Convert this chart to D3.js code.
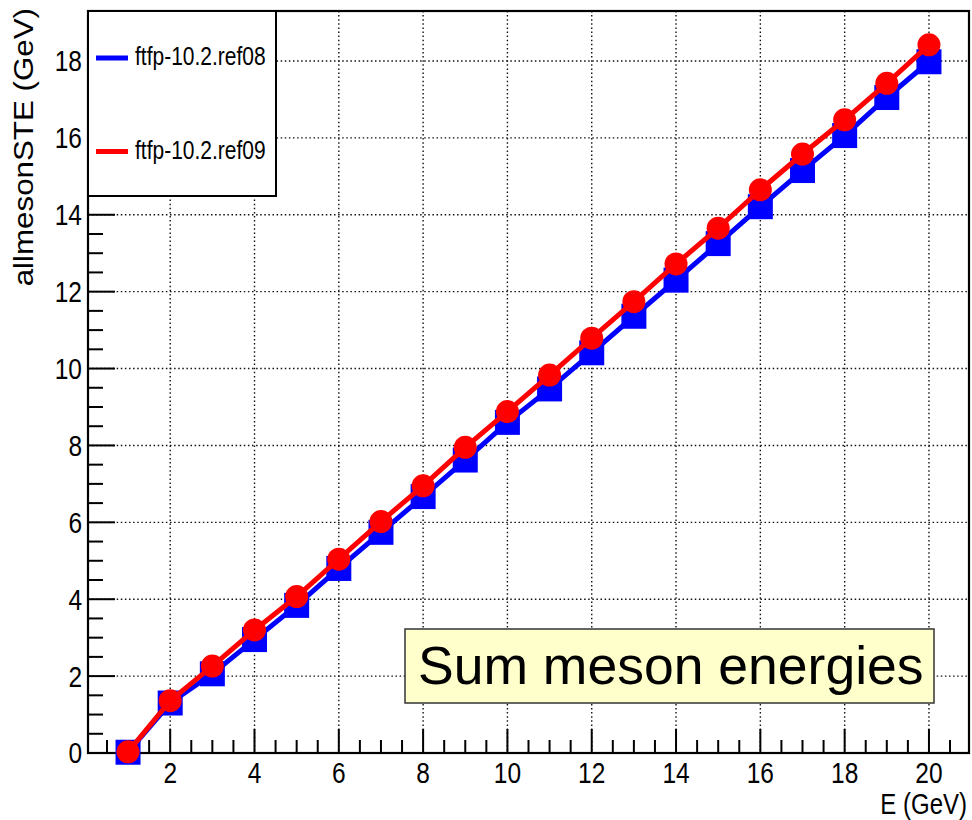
<!DOCTYPE html>
<html>
<head>
<meta charset="utf-8">
<script src="https://cdn.jsdelivr.net/npm/d3@7"></script>
<style>
  html, body { margin: 0; padding: 0; background: #ffffff; }
  svg { display: block; font-family: "Liberation Sans", Arial, Helvetica, sans-serif; }
</style>
</head>
<body>
<svg id="chart" width="972" height="820"></svg>
<script>
// ---- data ----
const energies = [1,2,3,4,5,6,7,8,9,10,11,12,13,14,15,16,17,18,19,20];
const ref08 = [0.02,1.30,2.06,2.95,3.84,4.80,5.74,6.67,7.62,8.60,9.47,10.41,11.36,12.30,13.25,14.21,15.15,16.06,17.05,17.98];
const ref09 = [0.03,1.36,2.26,3.20,4.07,5.04,6.02,6.95,7.95,8.88,9.83,10.79,11.74,12.72,13.65,14.65,15.58,16.47,17.42,18.42];
const seriesNames = ["ftfp-10.2.ref08", "ftfp-10.2.ref09"];
const xTickValues = [2,4,6,8,10,12,14,16,18,20];
const yTickValues = [0,2,4,6,8,10,12,14,16,18];
const xTitle = "E (GeV)";
const yTitle = "allmesonSTE (GeV)";
const boxTitle = "Sum meson energies";

// ---- layout ----
const L = 88, R = 969, T = 11, B = 753;
const svg = d3.select("#chart");
const x = d3.scaleLinear().domain([0.05, 20.95]).range([L, R]);
const y = d3.scaleLinear().domain([0, 19.3]).range([B, T]);

const BLUE = "#0000ff", RED = "#ff0000";

// grid
const grid = svg.append("g");
grid.selectAll("line.gx").data(xTickValues).join("line")
  .attr("x1", d => x(d)).attr("x2", d => x(d)).attr("y1", T).attr("y2", B)
  .attr("stroke", "#111").attr("stroke-width", 1.4).attr("stroke-dasharray", "1.5,2.6");
grid.selectAll("line.gy").data(yTickValues.filter(d => d > 0)).join("line")
  .attr("x1", L).attr("x2", R).attr("y1", d => y(d)).attr("y2", d => y(d))
  .attr("stroke", "#111").attr("stroke-width", 1.4).attr("stroke-dasharray", "1.5,2.6");

// minor / major ticks
const xMinor = d3.range(0.5, 21, 0.5).filter(v => v > 0.05 && v < 20.95);
svg.append("g").selectAll("line").data(xMinor).join("line")
  .attr("x1", d => x(d)).attr("x2", d => x(d))
  .attr("y1", B).attr("y2", d => (Math.abs(d % 2) < 1e-9) ? B - 24 : B - 13)
  .attr("stroke", "#000").attr("stroke-width", 2);
const yMinor = d3.range(0, 19.3, 0.5);
svg.append("g").selectAll("line").data(yMinor).join("line")
  .attr("y1", d => y(d)).attr("y2", d => y(d))
  .attr("x1", L).attr("x2", d => (Math.abs(d % 2) < 1e-9) ? L + 27 : L + 15)
  .attr("stroke", "#000").attr("stroke-width", 2);

// frame
svg.append("rect").attr("x", L).attr("y", T).attr("width", R - L).attr("height", B - T)
  .attr("fill", "none").attr("stroke", "#000").attr("stroke-width", 2.2);

// tick labels
svg.append("g").selectAll("g").data(xTickValues).join("g")
  .attr("transform", d => `translate(${x(d)},783) scale(1,1.2)`)
  .append("text").attr("text-anchor", "middle").attr("font-size", 24.5).attr("fill", "#000")
  .text(d => d);
svg.append("g").selectAll("g").data(yTickValues).join("g")
  .attr("transform", d => `translate(82,${y(d) + 10.4}) scale(1,1.2)`)
  .append("text").attr("text-anchor", "end").attr("font-size", 24.5).attr("fill", "#000")
  .text(d => d);

// axis titles
svg.append("g").attr("transform", "translate(967,814) scale(1,1.22)")
  .append("text").attr("text-anchor", "end").attr("font-size", 24).text(xTitle);
svg.append("g").attr("transform", "translate(33,8) rotate(-90) scale(1.16,1)")
  .append("text").attr("text-anchor", "end").attr("font-size", 27).text(yTitle);

// series
const line = d3.line().x(d => x(d[0])).y(d => y(d[1]));
const d08 = energies.map((e, i) => [e, ref08[i]]);
const d09 = energies.map((e, i) => [e, ref09[i]]);
const MS = 25;
svg.append("path").datum(d08).attr("d", line).attr("fill", "none")
  .attr("stroke", BLUE).attr("stroke-width", 5);
svg.append("g").selectAll("rect").data(d08).join("rect")
  .attr("x", d => x(d[0]) - MS / 2).attr("y", d => y(d[1]) - MS / 2)
  .attr("width", MS).attr("height", MS).attr("fill", BLUE);
svg.append("path").datum(d09).attr("d", line).attr("fill", "none")
  .attr("stroke", RED).attr("stroke-width", 5);
svg.append("g").selectAll("circle").data(d09).join("circle")
  .attr("cx", d => x(d[0])).attr("cy", d => y(d[1])).attr("r", 11.5).attr("fill", RED);

// legend
svg.append("rect").attr("x", L).attr("y", T).attr("width", 276 - L).attr("height", 196 - T)
  .attr("fill", "#fff").attr("stroke", "#000").attr("stroke-width", 2);
const legendY = [58, 151.5];
const legendColors = [BLUE, RED];
const lg = svg.append("g").selectAll("g").data(seriesNames).join("g");
lg.append("line").attr("x1", 96).attr("x2", 128)
  .attr("y1", (d, i) => legendY[i]).attr("y2", (d, i) => legendY[i])
  .attr("stroke", (d, i) => legendColors[i]).attr("stroke-width", 5);
lg.append("g").attr("transform", (d, i) => `translate(135,${legendY[i] + 7}) scale(1,1.2)`)
  .append("text").attr("font-size", 21).attr("fill", "#000").text(d => d);

// title box
svg.append("rect").attr("x", 405).attr("y", 629).attr("width", 934 - 405).attr("height", 703 - 629)
  .attr("fill", "#ffffcc").attr("stroke", "#333").attr("stroke-width", 1.5);
svg.append("text").attr("x", 418).attr("y", 684).attr("font-size", 53.5).attr("fill", "#000")
  .text(boxTitle);
</script>
</body>
</html>
